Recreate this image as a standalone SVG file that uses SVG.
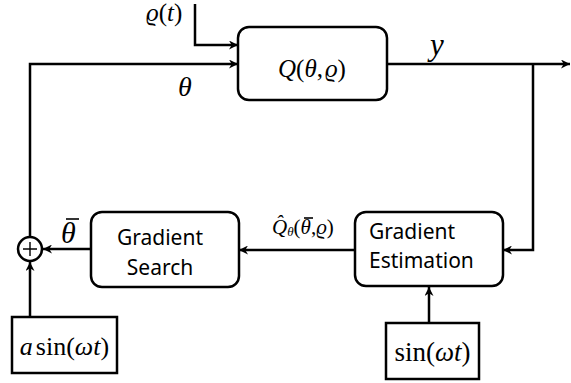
<svg xmlns="http://www.w3.org/2000/svg" width="571" height="383" viewBox="0 0 571 383">
  <style>
    .blk { fill: #fff; stroke: #000; stroke-width: 2.5; }
    .wire { fill: none; stroke: #000; stroke-width: 2.5; }
    .math { font-family: "Liberation Serif", "DejaVu Serif", serif; fill: #000; }
    .it { font-style: italic; }
    .lbl { font-family: "Noto Sans", "Liberation Sans", sans-serif; font-size: 21px; fill: #000; }
    .bar { stroke: #000; stroke-width: 1.6; }
  </style>
  <defs>
    <marker id="arrow" viewBox="0 0 10 10" refX="10" refY="5" markerWidth="9" markerHeight="9" markerUnits="userSpaceOnUse" orient="auto">
      <path d="M0,0 L10,5 L0,10 L3,5 z" fill="#000"/>
    </marker>
  </defs>

  <!-- connectors -->
  <g id="connectors">
    <polyline class="wire" points="195,4 195,45 238,45" marker-end="url(#arrow)"/>
    <polyline class="wire" points="30,237 30,64 238,64" marker-end="url(#arrow)"/>
    <line class="wire" x1="387" y1="64" x2="570" y2="64" marker-end="url(#arrow)"/>
    <polyline class="wire" points="533,64 533,250 503,250" marker-end="url(#arrow)"/>
    <line class="wire" x1="355" y1="250" x2="239" y2="250" marker-end="url(#arrow)"/>
    <line class="wire" x1="91" y1="249" x2="43" y2="249" marker-end="url(#arrow)"/>
    <line class="wire" x1="30" y1="317" x2="30" y2="262" marker-end="url(#arrow)"/>
    <line class="wire" x1="429" y1="323" x2="429" y2="287" marker-end="url(#arrow)"/>
  </g>

  <!-- signal labels -->
  <g id="signal-labels">
    <text class="math" x="146" y="21" font-size="25"><tspan class="it">ϱ</tspan>(<tspan class="it">t</tspan>)</text>
    <text class="math it" x="178" y="96" font-size="28">θ</text>
    <text class="math it" x="430" y="55" font-size="31">y</text>
    <text class="math" x="272" y="234" font-size="21"><tspan class="it">Q̂</tspan><tspan class="it" font-size="13" dy="2">θ</tspan><tspan dy="-2">(</tspan><tspan class="it">θ</tspan>,<tspan class="it">ϱ</tspan>)</text>
    <line class="bar" x1="304" y1="218" x2="313" y2="218"/>
    <text class="math it" x="61" y="243" font-size="30">θ</text>
    <line class="bar" x1="66" y1="219" x2="79" y2="219" stroke-width="2"/>
  </g>

  <!-- plant -->
  <g id="plant">
    <rect class="blk" x="238" y="27" width="149" height="73" rx="11"/>
    <text class="math" x="278" y="77" font-size="25"><tspan class="it">Q</tspan>(<tspan class="it">θ</tspan>,<tspan class="it" dx="2">ϱ</tspan>)</text>
  </g>

  <!-- gradient estimation -->
  <g id="gradient-estimation">
    <rect class="blk" x="355" y="212" width="148" height="74" rx="11"/>
    <text class="lbl" x="369" y="239">Gradient</text>
    <text class="lbl" x="369" y="268">Estimation</text>
  </g>

  <!-- gradient search -->
  <g id="gradient-search">
    <rect class="blk" x="91" y="212" width="148" height="75" rx="11"/>
    <text class="lbl" x="160" y="245" text-anchor="middle">Gradient</text>
    <text class="lbl" x="160" y="275" text-anchor="middle">Search</text>
  </g>

  <!-- summing junction -->
  <g id="sum">
    <circle cx="30" cy="249" r="12" fill="#fff" stroke="#000" stroke-width="2.5"/>
    <path d="M23,249 H37 M30,242 V256" stroke="#000" stroke-width="1.4" fill="none"/>
  </g>

  <!-- dither input -->
  <g id="dither">
    <rect class="blk" x="12" y="317" width="105" height="56"/>
    <text class="math" x="64.5" y="355" font-size="26" text-anchor="middle"><tspan class="it">a</tspan><tspan dx="3">sin(</tspan><tspan class="it">ωt</tspan>)</text>
  </g>

  <!-- demodulation signal -->
  <g id="demod">
    <rect class="blk" x="386" y="323" width="93" height="56"/>
    <text class="math" x="432.5" y="361" font-size="27" text-anchor="middle">sin(<tspan class="it">ωt</tspan>)</text>
  </g>
</svg>
